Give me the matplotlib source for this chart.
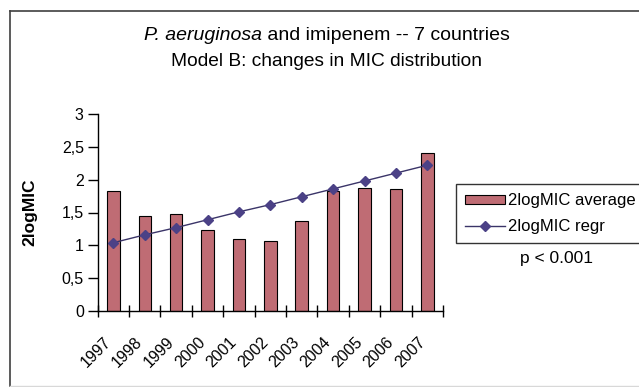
import matplotlib
matplotlib.use("Agg")
import matplotlib.pyplot as plt
from matplotlib.lines import Line2D
from matplotlib.patches import Patch
from matplotlib.ticker import FuncFormatter, FixedLocator
from matplotlib.transforms import ScaledTranslation, offset_copy

plt.rcParams['font.family'] = ['Liberation Sans', 'DejaVu Sans']

years = ['1997', '1998', '1999', '2000', '2001', '2002',
         '2003', '2004', '2005', '2006', '2007']
mic_average = [1.82, 1.45, 1.48, 1.24, 1.09, 1.07, 1.37, 1.82, 1.88, 1.86, 2.40]
mic_regr = [1.04, 1.16, 1.27, 1.39, 1.51, 1.62, 1.74, 1.86, 1.98, 2.10, 2.22]
y_ticks = [0, 0.5, 1, 1.5, 2, 2.5, 3]

BAR_COLOR = '#BF6C74'
LINE_COLOR = '#3A3468'
MARKER_COLOR = '#4B4186'

W, H = 639, 387
fig = plt.figure(figsize=(W / 100, H / 100), dpi=100)
fig.patch.set_facecolor('white')

# chart area border
fig.add_artist(Line2D([10 / W, 10 / W], [1 - 386 / H, 1 - 11 / H], color='#404040', lw=1.2))
fig.add_artist(Line2D([10 / W, 1], [1 - 11 / H, 1 - 11 / H], color='#404040', lw=1.2))
fig.add_artist(Line2D([10 / W, 1], [1 - 386 / H, 1 - 386 / H], color='#d8d8d8', lw=1.0))

ax = fig.add_axes([97.7 / W, 76 / H, (443 - 97.7) / W, (311 - 114) / H])
x = list(range(len(years)))

ax.bar(x, mic_average, width=0.4, color=BAR_COLOR, edgecolor='black', linewidth=0.8,
       label='2logMIC average', zorder=2)
ax.plot(x, mic_regr, color=LINE_COLOR, lw=1.0, marker='D', markersize=5,
        markerfacecolor=MARKER_COLOR, markeredgecolor=MARKER_COLOR,
        label='2logMIC regr', zorder=3)

ax.set_xlim(-0.5, len(years) - 0.5)
ax.set_ylim(0, 3)
ax.set_yticks(y_ticks)
ax.yaxis.set_major_formatter(FuncFormatter(lambda v, p: ('%g' % v).replace('.', ',')))
ax.tick_params(axis='y', direction='out', length=7, width=1, labelsize=11.5, pad=3)

ax.set_xticks(x)
ax.set_xticklabels(years, rotation=45, ha='right', rotation_mode='anchor', fontsize=11.5)
ax.tick_params(axis='x', which='major', length=0, pad=17)
shift = ScaledTranslation(-10 / 100, 0, fig.dpi_scale_trans)
for lab in ax.get_xticklabels():
    lab.set_transform(lab.get_transform() + shift)
ax.xaxis.set_minor_locator(FixedLocator([i - 0.5 for i in range(len(years) + 1)]))
ax.tick_params(axis='x', which='minor', direction='inout', length=9, width=1)

for s in ('top', 'right'):
    ax.spines[s].set_visible(False)
for s in ('left', 'bottom'):
    ax.spines[s].set_linewidth(1.0)

ax.set_ylabel('2logMIC', fontsize=12.5, fontweight='bold')
ax.yaxis.set_label_coords((37 - 97.7) / (443 - 97.7), 0.5)

# title: italic species name followed by upright text, centred as one line
renderer = fig.canvas.get_renderer()
title_size = 14
part1 = 'P. aeruginosa'
part2 = ' and imipenem -- 7 countries'
t1 = fig.text(0, 1 - 36 / H, part1, style='italic', fontsize=title_size,
              ha='left', va='center')
t2 = fig.text(0, 1 - 36 / H, part2, fontsize=title_size, ha='left', va='center')
w1 = t1.get_window_extent(renderer).width
w2 = t2.get_window_extent(renderer).width
left_px = 327 - (w1 + w2) / 2
t1.set_x(left_px / W)
t2.set_x((left_px + w1) / W)

fig.text(327 / W, 1 - 61 / H, 'Model B: changes in MIC distribution',
         ha='center', va='center', fontsize=13.8)

handles = [Patch(facecolor=BAR_COLOR, edgecolor='black', linewidth=0.8),
           Line2D([], [], color=LINE_COLOR, lw=1.0, marker='D', markersize=5,
                  markerfacecolor=MARKER_COLOR, markeredgecolor=MARKER_COLOR)]
leg = fig.legend(handles, ['2logMIC average', '2logMIC regr'],
                 loc='upper left', bbox_to_anchor=(456 / W, 1 - 184 / H),
                 borderaxespad=0, fancybox=False, frameon=True, fontsize=12,
                 handlelength=2.4, handleheight=0.45, handletextpad=0.15,
                 borderpad=0.55, labelspacing=0.65)
leg.get_frame().set_edgecolor('black')
leg.get_frame().set_linewidth(1.0)

fig.text(556 / W, 1 - 258 / H, 'p < 0.001', ha='center', va='center', fontsize=12.5)

fig.savefig('out.png', dpi=100)
